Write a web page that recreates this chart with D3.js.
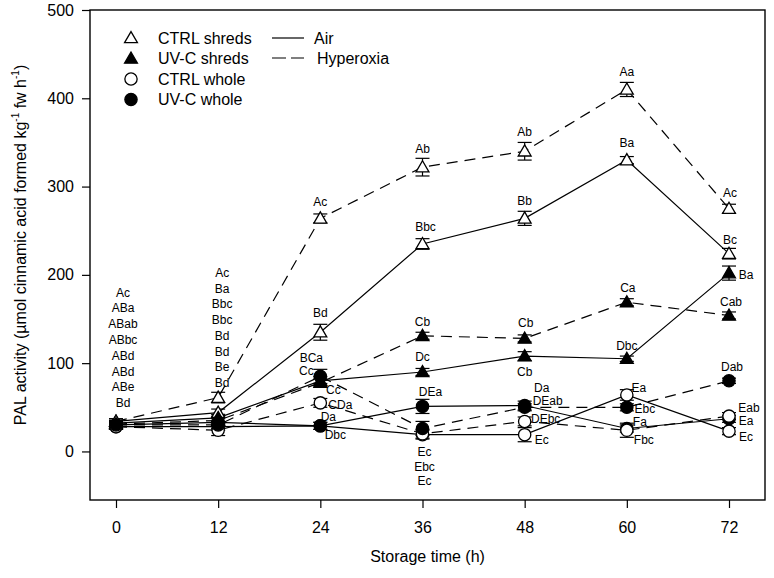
<!DOCTYPE html>
<html>
<head>
<meta charset="utf-8">
<script src="https://cdn.jsdelivr.net/npm/d3@7"></script>
<style>
  html, body { margin: 0; padding: 0; background: #fff; }
  svg { display: block; font-family: "Liberation Sans", Arial, sans-serif; }
</style>
</head>
<body>
<svg id="chart" width="774" height="578"></svg>
<script>
// ---------------- DATA ----------------
const times = [0, 12, 24, 36, 48, 60, 72];
const xTickLabels = ["0", "12", "24", "36", "48", "60", "72"];
const yTickValues = [0, 100, 200, 300, 400, 500];

const ctrlShredsAir  = [34, 44, 135, 235, 264, 330, 224];
const ctrlShredsHyp  = [34, 61, 264, 322, 340, 410, 275];
const uvcShredsAir   = [32, 38, 80, 90, 108, 105, 202];
const uvcShredsHyp   = [31, 35, 78, 131, 128, 169, 154];
const ctrlWholeAir   = [28, 28, 29, 19, 19, 64, 23];
const ctrlWholeHyp   = [28, 24, 55, 20, 34, 24, 40];
const uvcWholeAir    = [30, 33, 29, 51, 52, 26, 37];
const uvcWholeHyp    = [30, 30, 85, 26, 50, 50, 80];

const ctrlShredsAirErr = [3, 4, 9, 6, 8, 4, 6];
const ctrlShredsHypErr = [3, 6, 5, 10, 10, 8, 5];
const uvcShredsAirErr  = [3, 4, 5, 4, 5, 3, 8];
const uvcShredsHypErr  = [3, 4, 5, 4, 4, 4, 4];
const ctrlWholeAirErr  = [3, 4, 4, 5, 8, 6, 4];
const ctrlWholeHypErr  = [3, 6, 5, 5, 5, 8, 4];
const uvcWholeAirErr   = [3, 4, 4, 8, 5, 4, 4];
const uvcWholeHypErr   = [3, 4, 8, 8, 4, 4, 3];

// letter columns stacked above the first two time points
const lettersAt0  = ["Ac", "ABa", "ABab", "ABbc", "ABd", "ABd", "ABe", "Bd"];
const lettersAt12 = ["Ac", "Ba", "Bbc", "Bbc", "Bd", "Bd", "Be", "Bd"];

// other significance letters: [time, value-anchor, text]
const letterTexts = [
  [60, 430, "Aa"], [48, 362, "Ab"], [36, 343, "Ab"], [60, 349, "Ba"], [48, 284, "Bb"],
  [36, 254, "Bbc"], [24, 283, "Ac"], [24, 157, "Bd"], [72, 293, "Ac"], [72, 240, "Bc"],
  [72, 200, "Ba"], [60, 185, "Ca"], [72, 169, "Cab"], [48, 146, "Cb"], [36, 147, "Cb"],
  [36, 107, "Dc"], [48, 90, "Cb"], [60, 119, "Dbc"],
  [24, 106, "BCa"], [24, 91, "Cc"], [24, 70, "Cc"], [24, 53, "CDa"], [24, 39, "Da"], [24, 19, "Dbc"],
  [36, 67, "DEa"], [36, -1, "Ec"], [36, -18, "Ebc"], [36, -34, "Ec"],
  [48, 72, "Da"], [48, 57, "DEab"], [48, 37, "DEbc"], [48, 13, "Ec"],
  [60, 72, "Ea"], [60, 48, "Ebc"], [60, 33, "Fa"], [60, 13, "Fbc"],
  [72, 96, "Dab"], [72, 49, "Eab"], [72, 34, "Ea"], [72, 16, "Ec"]
];
// horizontal nudges (px) of those letters, same order
const letterDx = [
  0, 0, 0, 0, 0, 3, 0, 0, 1, 1, 17, 1, 2, 1, 0, 0, 0, 0,
  -9, -14, 13, 20, 8, 15, 8, 2, 2, 2, 17, 23, 21, 17, 12, 18, 13, 17, 3, 20, 17, 17
];

const legendNames = ["CTRL shreds", "UV-C shreds", "CTRL whole", "UV-C whole"];
const legendLines = ["Air", "Hyperoxia"];

// ---------------- SERIES TABLE ----------------
// draw order chosen so overlapping symbols stack like the original
const series = [
  { v: ctrlShredsAir, e: ctrlShredsAirErr, shape: "tri", fill: false, dash: false },
  { v: uvcShredsAir,  e: uvcShredsAirErr,  shape: "tri", fill: true,  dash: false },
  { v: ctrlWholeAir,  e: ctrlWholeAirErr,  shape: "cir", fill: false, dash: false },
  { v: uvcWholeAir,   e: uvcWholeAirErr,   shape: "cir", fill: true,  dash: false },
  { v: ctrlShredsHyp, e: ctrlShredsHypErr, shape: "tri", fill: false, dash: true },
  { v: uvcShredsHyp,  e: uvcShredsHypErr,  shape: "tri", fill: true,  dash: true },
  { v: ctrlWholeHyp,  e: ctrlWholeHypErr,  shape: "cir", fill: false, dash: true },
  { v: uvcWholeHyp,   e: uvcWholeHypErr,   shape: "cir", fill: true,  dash: true }
];

// ---------------- LAYOUT ----------------
const svg = d3.select("#chart");
const frame = { left: 90, right: 765, top: 10, bottom: 500 };
const x = d3.scaleLinear().domain([0, 72]).range([116, 729]);
const y = d3.scaleLinear().domain([-55, 500]).range([frame.bottom, frame.top]);
const DASH = "11,7";
const triSym = d3.symbol().type(d3.symbolTriangle).size(72);
const cirSym = d3.symbol().type(d3.symbolCircle).size(118);

// frame
svg.append("rect")
  .attr("x", frame.left).attr("y", frame.top)
  .attr("width", frame.right - frame.left).attr("height", frame.bottom - frame.top)
  .attr("fill", "none").attr("stroke", "#000").attr("stroke-width", 1.4);

// y axis
const yAxis = d3.axisLeft(y).tickValues(yTickValues).tickSize(8).tickPadding(8);
const gy = svg.append("g").attr("transform", `translate(${frame.left},0)`).call(yAxis);
gy.select(".domain").remove();
gy.selectAll("line").attr("stroke", "#000").attr("stroke-width", 1.2);
gy.selectAll("text").attr("font-size", 16).attr("fill", "#000")
  .attr("font-family", "'Liberation Sans', Arial, sans-serif");

// x axis
const xAxis = d3.axisBottom(x).tickValues(times).tickFormat((d, i) => xTickLabels[i])
  .tickSize(8).tickPadding(14);
const gx = svg.append("g").attr("transform", `translate(0,${frame.bottom})`).call(xAxis);
gx.select(".domain").remove();
gx.selectAll("line").attr("stroke", "#000").attr("stroke-width", 1.2);
gx.selectAll("text").attr("font-size", 16).attr("fill", "#000")
  .attr("font-family", "'Liberation Sans', Arial, sans-serif");

// axis titles
svg.append("text")
  .attr("x", (frame.left + frame.right) / 2).attr("y", 562)
  .attr("text-anchor", "middle").attr("font-size", 16).text("Storage time (h)");

const yt = svg.append("text")
  .attr("transform", "translate(26,245) rotate(-90)")
  .attr("text-anchor", "middle").attr("font-size", 16);
yt.append("tspan").text("PAL activity (µmol cinnamic acid formed kg");
yt.append("tspan").attr("font-size", 10).attr("dy", -7).text("-1");
yt.append("tspan").attr("dy", 7).text(" fw h");
yt.append("tspan").attr("font-size", 10).attr("dy", -7).text("-1");
yt.append("tspan").attr("dy", 7).text(")");

// lines
const line = d3.line().x((d, i) => x(times[i])).y(d => y(d));
const plot = svg.append("g");
series.forEach(s => {
  plot.append("path").attr("d", line(s.v))
    .attr("fill", "none").attr("stroke", "#000").attr("stroke-width", 1.2)
    .attr("stroke-dasharray", s.dash ? DASH : null);
});

// error bars
series.forEach(s => {
  s.v.forEach((v, i) => {
    const cx = x(times[i]);
    const g = plot.append("g").attr("stroke", "#000").attr("stroke-width", 1.2);
    g.append("line").attr("x1", cx).attr("x2", cx).attr("y1", y(v - s.e[i])).attr("y2", y(v + s.e[i]));
    g.append("line").attr("x1", cx - 7).attr("x2", cx + 7).attr("y1", y(v + s.e[i])).attr("y2", y(v + s.e[i]));
    g.append("line").attr("x1", cx - 7).attr("x2", cx + 7).attr("y1", y(v - s.e[i])).attr("y2", y(v - s.e[i]));
  });
});

// symbols
series.forEach(s => {
  s.v.forEach((v, i) => {
    plot.append("path")
      .attr("d", s.shape === "tri" ? triSym() : cirSym())
      .attr("transform", `translate(${x(times[i])},${y(v) + (s.shape === "tri" ? 1 : 0)})`)
      .attr("fill", s.fill ? "#000" : "#fff")
      .attr("stroke", "#000").attr("stroke-width", 1.3);
  });
});

// letters
const lab = svg.append("g").attr("font-size", 12).attr("text-anchor", "middle").attr("fill", "#000");
lettersAt0.forEach((t, i) => {
  lab.append("text").attr("x", x(0) + 7).attr("y", y(180) + i * 15.8)
    .attr("dominant-baseline", "central").text(t);
});
lettersAt12.forEach((t, i) => {
  lab.append("text").attr("x", x(12) + 4).attr("y", y(202) + i * 15.7)
    .attr("dominant-baseline", "central").text(t);
});
letterTexts.forEach((d, i) => {
  lab.append("text").attr("x", x(d[0]) + letterDx[i]).attr("y", y(d[1]))
    .attr("dominant-baseline", "central").text(d[2]);
});

// legend
const leg = svg.append("g").attr("font-size", 16);
const legShapes = [["tri", false], ["tri", true], ["cir", false], ["cir", true]];
legendNames.forEach((n, i) => {
  const yy = 38 + i * 20.5;
  leg.append("path")
    .attr("d", legShapes[i][0] === "tri" ? triSym() : cirSym())
    .attr("transform", `translate(131,${yy + (legShapes[i][0] === "tri" ? 1 : 0)})`)
    .attr("fill", legShapes[i][1] ? "#000" : "#fff").attr("stroke", "#000").attr("stroke-width", 1.3);
  leg.append("text").attr("x", 158).attr("y", yy).attr("dominant-baseline", "central").text(n);
});
legendLines.forEach((n, i) => {
  const yy = 38 + i * 20;
  leg.append("line").attr("x1", 272).attr("x2", 304).attr("y1", yy).attr("y2", yy)
    .attr("stroke", "#000").attr("stroke-width", 1.2)
    .attr("stroke-dasharray", i === 1 ? "14,5" : null);
  leg.append("text").attr("x", i === 0 ? 314 : 317).attr("y", yy)
    .attr("dominant-baseline", "central").text(n);
});
</script>
</body>
</html>
